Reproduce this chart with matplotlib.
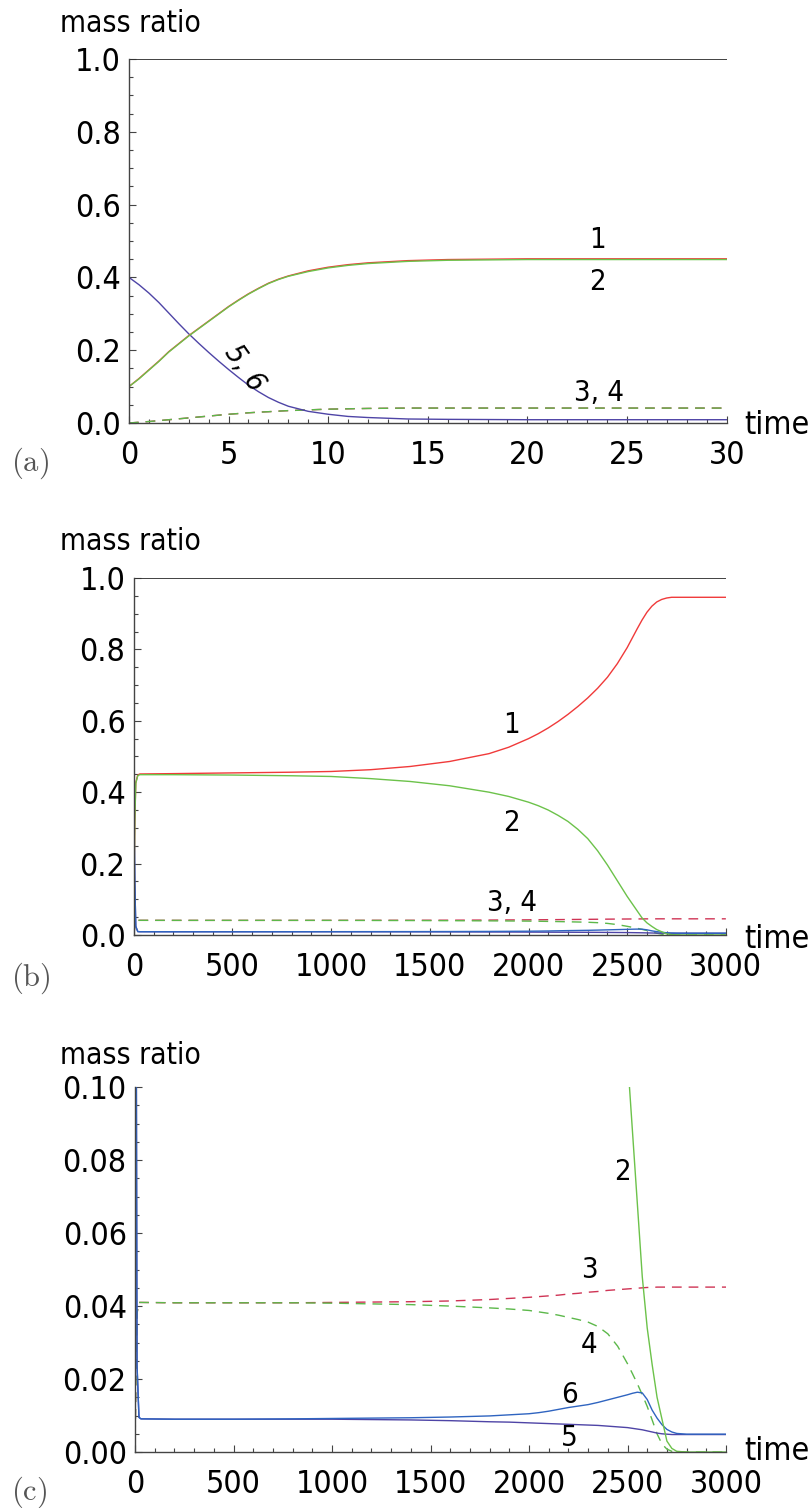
import numpy as np
import matplotlib
matplotlib.use("Agg")
import matplotlib.pyplot as plt
from matplotlib.ticker import MultipleLocator, FormatStrFormatter

plt.rcParams['font.family'] = ['DejaVu Sans']
plt.rcParams['font.stretch'] = 'condensed'
plt.rcParams['mathtext.fontset'] = 'cm'

# ---- panel (a): early times ----
t_a = [0, 0.5, 1, 1.5, 2, 2.5, 3, 3.5, 4, 4.5, 5, 5.5, 6, 6.5, 7, 7.5, 8, 9, 10, 11, 12, 14, 16, 20, 25, 30]
m1_a = [0.100, 0.122, 0.146, 0.170, 0.196, 0.218, 0.240, 0.260, 0.280, 0.300, 0.320, 0.338, 0.355, 0.370, 0.384,
        0.395, 0.404, 0.418, 0.428, 0.435, 0.440, 0.446, 0.449, 0.451, 0.451, 0.451]
m2_a = [0.100, 0.121, 0.145, 0.169, 0.195, 0.217, 0.239, 0.259, 0.279, 0.299, 0.319, 0.337, 0.354, 0.369, 0.383,
        0.394, 0.403, 0.416, 0.426, 0.433, 0.438, 0.444, 0.447, 0.449, 0.449, 0.449]
m34_a = [0.000, 0.002, 0.004, 0.0065, 0.009, 0.0115, 0.014, 0.0165, 0.019, 0.0215, 0.024, 0.026, 0.028, 0.0297, 0.031,
         0.0326, 0.034, 0.036, 0.038, 0.039, 0.040, 0.041, 0.041, 0.041, 0.041, 0.041]
m56_a = [0.400, 0.380, 0.357, 0.331, 0.302, 0.273, 0.245, 0.219, 0.194, 0.170, 0.147, 0.125, 0.104, 0.086, 0.070,
         0.057, 0.046, 0.032, 0.024, 0.018, 0.015, 0.011, 0.010, 0.009, 0.009, 0.009]

# ---- panels (b), (c): long run ----
t_l = [0, 5, 10, 20, 30, 200, 500, 800, 1000, 1200, 1400, 1600, 1800, 1900, 2000, 2050, 2100, 2150, 2200,
       2250, 2300, 2350, 2400, 2450, 2500, 2525, 2550, 2575, 2600, 2625, 2650, 2675, 2700, 2725, 2750, 2800, 2900, 3000]
m1_l = [0.100, 0.320, 0.427, 0.448, 0.451, 0.452, 0.454, 0.456, 0.458, 0.463, 0.472, 0.486, 0.508, 0.526, 0.550,
        0.564, 0.580, 0.598, 0.618, 0.640, 0.664, 0.691, 0.722, 0.760, 0.805, 0.831, 0.857, 0.882, 0.904, 0.921,
        0.933, 0.940, 0.944, 0.946, 0.946, 0.946, 0.946, 0.946]
m2_l = [0.100, 0.319, 0.425, 0.446, 0.449, 0.449, 0.448, 0.446, 0.444, 0.438, 0.430, 0.418, 0.400, 0.388, 0.372,
        0.362, 0.350, 0.335, 0.318, 0.296, 0.270, 0.236, 0.196, 0.152, 0.108, 0.088, 0.068, 0.048, 0.034, 0.024,
        0.015, 0.009, 0.003, 0.001, 0.0002, 0.0, 0.0, 0.0]
m3_l = [0.000, 0.024, 0.038, 0.041, 0.041, 0.0409, 0.0409, 0.0409, 0.0410, 0.0411, 0.0412, 0.0414, 0.0418, 0.0421, 0.0424,
        0.0426, 0.0428, 0.0430, 0.0433, 0.0435, 0.0438, 0.0440, 0.0443, 0.0445, 0.0447, 0.0448, 0.0449, 0.0450, 0.0451, 0.0451,
        0.0452, 0.0452, 0.0452, 0.0452, 0.0452, 0.0452, 0.0452, 0.0452]
m4_l = [0.000, 0.024, 0.038, 0.041, 0.041, 0.0409, 0.0409, 0.0409, 0.0408, 0.0406, 0.0404, 0.0400, 0.0395, 0.0392, 0.0388,
        0.0384, 0.0380, 0.0375, 0.0369, 0.0363, 0.0356, 0.0344, 0.0324, 0.0290, 0.0242, 0.0215, 0.0187, 0.0157, 0.0125, 0.0088,
        0.0050, 0.0022, 0.0008, 0.0002, 0.0, 0.0, 0.0, 0.0]
m5_l = [0.400, 0.147, 0.024, 0.0095, 0.0091, 0.0090, 0.0090, 0.0090, 0.0090, 0.0089, 0.0088, 0.0086, 0.0083, 0.0082, 0.0080,
        0.0079, 0.0078, 0.0077, 0.0076, 0.0075, 0.0074, 0.0073, 0.0071, 0.0069, 0.0067, 0.0065, 0.0063, 0.0061, 0.0058, 0.0055,
        0.0052, 0.0050, 0.0049, 0.0048, 0.0048, 0.0048, 0.0048, 0.0048]
m6_l = [0.400, 0.147, 0.024, 0.0095, 0.0091, 0.0090, 0.0090, 0.0091, 0.0092, 0.0093, 0.0094, 0.0096, 0.0099, 0.0102, 0.0105,
        0.0108, 0.0112, 0.0117, 0.0122, 0.0126, 0.0130, 0.0136, 0.0143, 0.0150, 0.0157, 0.0161, 0.0164, 0.0162, 0.0144, 0.0115,
        0.0093, 0.0075, 0.0062, 0.0055, 0.0051, 0.0049, 0.0049, 0.0049]
total = [1.0, 1.0]

RED, GREEN, DRED, DGREEN = "#f03a3a", "#6cc24a", "#cf3455", "#5cb84a"
BLUE, PURPLE = "#2f64c0", "#4e44a6"
TXT = 21


def style_axes(ax, xmax, xmaj, xmin, ymax, ymaj, ymin, yfmt):
    ax.set_xlim(0, xmax)
    ax.set_ylim(0, ymax)
    for s in ['top', 'right']:
        ax.spines[s].set_visible(False)
    for s in ['left', 'bottom']:
        ax.spines[s].set_color('#444444')
        ax.spines[s].set_linewidth(1.0)
    ax.xaxis.set_major_locator(MultipleLocator(xmaj))
    ax.xaxis.set_minor_locator(MultipleLocator(xmin))
    ax.yaxis.set_major_locator(MultipleLocator(ymaj))
    ax.yaxis.set_minor_locator(MultipleLocator(ymin))
    ax.yaxis.set_major_formatter(FormatStrFormatter(yfmt))
    ax.tick_params(which='both', direction='in', color='#444444', width=0.8)
    ax.tick_params(which='major', length=5, labelsize=23, pad=6)
    ax.tick_params(which='minor', length=3)
    ax.tick_params(axis='x', which='major', pad=12)


fig = plt.figure(figsize=(8.11, 15.08), dpi=100)

# (a)
ax = fig.add_axes([0.159, 0.7195, 0.737, 0.2414])
ax.plot([0, 30], total, color='#333333', lw=1.3)
ax.plot(t_a, m34_a, color=DRED, lw=1.0, dashes=(7, 5))
ax.plot(t_a, m34_a, color=DGREEN, lw=1.0, dashes=(7, 5))
ax.plot(t_a, m56_a, color=PURPLE, lw=1.0)
ax.plot(t_a, m1_a, color=RED, lw=1.0)
ax.plot(t_a, m2_a, color=GREEN, lw=1.0)
style_axes(ax, 30, 5, 1, 1.0, 0.2, 0.05, '%.1f')
ax.text(23.5, 0.503, "1", fontsize=TXT, ha='center', va='center')
ax.text(23.5, 0.387, "2", fontsize=TXT, ha='center', va='center')
ax.text(23.6, 0.082, "3, 4", fontsize=TXT, ha='center', va='center')
ax.text(5.8, 0.150, "5, 6", fontsize=TXT, ha='center', va='center', rotation=-55, style='italic')

# (b)
ax = fig.add_axes([0.165, 0.380, 0.730, 0.2367])
ax.plot([0, 3000], total, color='#333333', lw=1.3)
ax.plot(t_l, m3_l, color=DRED, lw=1.0, dashes=(7, 5))
ax.plot(t_l, m4_l, color=DGREEN, lw=1.0, dashes=(7, 5))
ax.plot(t_l, m5_l, color=PURPLE, lw=1.0)
ax.plot(t_l, m6_l, color=BLUE, lw=1.0)
ax.plot(t_l, m1_l, color=RED, lw=1.0)
ax.plot(t_l, m2_l, color=GREEN, lw=1.0)
style_axes(ax, 3000, 500, 100, 1.0, 0.2, 0.05, '%.1f')
ax.text(1915, 0.588, "1", fontsize=TXT, ha='center', va='center')
ax.text(1915, 0.314, "2", fontsize=TXT, ha='center', va='center')
ax.text(1915, 0.090, "3, 4", fontsize=TXT, ha='center', va='center')

# (c)
ax = fig.add_axes([0.1665, 0.0371, 0.7287, 0.242])
ax.plot(t_l, m3_l, color=DRED, lw=1.0, dashes=(7, 5))
ax.plot(t_l, m4_l, color=DGREEN, lw=1.0, dashes=(7, 5))
ax.plot(t_l, m5_l, color=PURPLE, lw=1.0)
ax.plot(t_l, m6_l, color=BLUE, lw=1.0)
ax.plot(t_l, m1_l, color=RED, lw=1.0)
ax.plot(t_l, m2_l, color=GREEN, lw=1.0)
style_axes(ax, 3000, 500, 100, 0.10, 0.02, 0.005, '%.2f')
ax.text(2472, 0.0767, "2", fontsize=TXT, ha='center', va='center')
ax.text(2304, 0.0499, "3", fontsize=TXT, ha='center', va='center')
ax.text(2304, 0.0293, "4", fontsize=TXT, ha='center', va='center')
ax.text(2203, 0.0156, "6", fontsize=TXT, ha='center', va='center')
ax.text(2203, 0.0038, "5", fontsize=TXT, ha='center', va='center')

# axis titles and panel letters (figure pixel positions)
W, H = 811, 1508
for ytop, ybot in [(23, 426), (542, 939), (1055, 1452)]:
    fig.text(60 / W, 1 - ytop / H, "mass ratio", fontsize=21.5, ha='left', va='center')
    fig.text(744 / W, 1 - ybot / H, "time", fontsize=23, ha='left', va='center')
fig.text(11 / W, 1 - 463 / H, r"$\mathrm{(a)}$", fontsize=22, color='#555555', ha='left', va='center')
fig.text(11 / W, 1 - 978 / H, r"$\mathrm{(b)}$", fontsize=22, color='#555555', ha='left', va='center')
fig.text(11 / W, 1 - 1492 / H, r"$\mathrm{(c)}$", fontsize=22, color='#555555', ha='left', va='center')

fig.savefig("out.png", dpi=100)
